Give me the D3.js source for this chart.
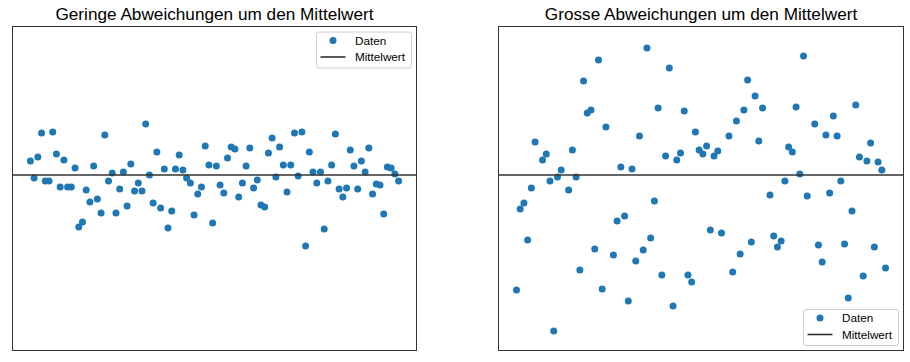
<!DOCTYPE html>
<html>
<head>
<meta charset="utf-8">
<script src="https://cdn.jsdelivr.net/npm/d3@7"></script>
<style>
  html, body { margin: 0; padding: 0; background: #fff; }
  svg { display: block; font-family: "Liberation Sans", Arial, sans-serif; }
</style>
</head>
<body>
<svg id="chart" width="910" height="362"></svg>
<script>
// ---- data ----
const titles = ["Geringe Abweichungen um den Mittelwert", "Grosse Abweichungen um den Mittelwert"];
const legendLabels = ["Daten", "Mittelwert"];
const meanValue = 50;
const yDomain = [32.4, 64.9];

const smallDeviation = [
  51.4, 49.7, 51.8, 54.2, 49.4, 49.4, 54.3, 52.1, 48.8, 51.5,
  48.8, 48.8, 50.7, 44.8, 45.3, 48.5, 47.3, 50.9, 47.6, 46.2,
  54.0, 49.4, 50.2, 46.2, 48.6, 50.3, 46.9, 51.1, 48.4, 49.2,
  48.4, 55.1, 50.0, 47.2, 52.3, 46.7, 50.6, 44.7, 46.4, 50.6,
  52.0, 50.5, 49.7, 49.2, 46.0, 48.1, 48.8, 52.9, 51.0, 45.2,
  50.9, 49.0, 48.2, 51.7, 52.8, 52.6, 47.8, 49.2, 50.9, 52.7,
  48.7, 49.5, 47.0, 46.8, 52.2, 53.7, 49.8, 52.8, 51.0, 48.3,
  51.0, 54.2, 49.9, 54.3, 42.9, 52.3, 50.3, 49.2, 50.3, 44.6,
  49.4, 51.0, 54.1, 48.6, 47.8, 48.7, 52.5, 50.9, 48.6, 51.4,
  50.3, 52.7, 48.1, 49.1, 49.0, 46.1, 50.8, 50.7, 50.1, 49.4
];

// null = point lies outside the visible range in the reference
const largeDeviation = [
  38.5, 46.6, 47.2, 43.5, 48.7, 53.3, null, 51.5, 52.1, 49.4,
  34.4, 49.8, 50.5, null, 48.5, 52.5, 49.8, 40.5, 59.4, 56.2,
  56.5, 42.6, 61.5, 38.6, 54.8, null, 42.0, 45.4, 50.8, 45.9,
  37.4, 50.6, 41.4, 53.9, 42.5, 62.7, 43.7, 47.4, 56.7, 40.0,
  51.9, 60.7, 36.9, 51.5, 52.2, 56.4, 40.0, 39.3, 54.3, 52.5,
  52.1, 52.9, 44.5, 51.9, 52.4, 44.2, null, 53.9, 40.3, 55.4,
  42.1, 56.5, 59.5, 43.3, 57.9, 53.4, 56.7, null, 48.0, 43.9,
  42.8, 43.4, 49.4, 52.8, 52.3, 56.8, 50.1, 61.9, 47.9, null,
  55.1, 43.0, 41.3, 54.0, 48.2, 55.9, 53.9, 49.4, 43.1, 37.7,
  46.4, 57.0, 51.8, 39.9, 51.4, 53.2, 42.8, 51.3, 50.5, 40.7
];

// ---- drawing ----
const svg = d3.select("#chart");
const panels = [
  { data: smallDeviation, left: 12, right: 417, legend: "top" },
  { data: largeDeviation, left: 498, right: 904, legend: "bottom" }
];
const plotTop = 26, plotBottom = 351;
const dotColor = "#1f77b4";
const lineColor = "#333333";

panels.forEach((p, k) => {
  const n = p.data.length;
  const pad = (n - 1) * 0.05;
  const x = d3.scaleLinear().domain([-pad, n - 1 + pad]).range([p.left, p.right]);
  const y = d3.scaleLinear().domain(yDomain).range([plotBottom, plotTop]);

  const g = svg.append("g");
  const clipId = "clip" + k;
  svg.append("clipPath").attr("id", clipId)
    .append("rect").attr("x", p.left).attr("y", plotTop)
    .attr("width", p.right - p.left).attr("height", plotBottom - plotTop);

  const plot = g.append("g").attr("clip-path", `url(#${clipId})`);

  const pts = p.data.map((v, i) => ({ i, v })).filter(d => d.v !== null);
  plot.selectAll("circle").data(pts).join("circle")
    .attr("cx", d => x(d.i))
    .attr("cy", d => y(d.v))
    .attr("r", 3.5)
    .attr("fill", dotColor);

  plot.append("line")
    .attr("x1", p.left).attr("x2", p.right)
    .attr("y1", y(meanValue)).attr("y2", y(meanValue))
    .attr("stroke", lineColor).attr("stroke-width", 1.6);

  // frame
  g.append("rect")
    .attr("x", p.left + 0.5).attr("y", plotTop + 0.5)
    .attr("width", p.right - p.left - 1).attr("height", plotBottom - plotTop - 1)
    .attr("fill", "none").attr("stroke", "#333").attr("stroke-width", 1);

  // title
  g.append("text")
    .attr("x", (p.left + p.right) / 2).attr("y", 19.5)
    .attr("text-anchor", "middle")
    .attr("font-size", 17.2)
    .attr("fill", "#000")
    .text(titles[k]);

  // legend
  const lw = 95, lh = 36;
  const lx = p.right - lw - 6;
  const ly = p.legend === "top" ? plotTop + 5.5 : plotBottom - lh - 6;
  const lg = g.append("g").attr("transform", `translate(${lx},${ly})`);
  lg.append("rect")
    .attr("x", 0.5).attr("y", 0.5).attr("width", lw).attr("height", lh)
    .attr("rx", 2.5).attr("ry", 2.5)
    .attr("fill", "#fff").attr("fill-opacity", 0.8)
    .attr("stroke", "#cccccc").attr("stroke-width", 1);
  lg.append("circle").attr("cx", 17).attr("cy", 9).attr("r", 3.5).attr("fill", dotColor);
  lg.append("line").attr("x1", 4.5).attr("x2", 29.5).attr("y1", 25.5).attr("y2", 25.5)
    .attr("stroke", lineColor).attr("stroke-width", 1.6);
  lg.selectAll("text.lab").data(legendLabels).join("text")
    .attr("class", "lab")
    .attr("x", 39)
    .attr("y", (d, i) => 9 + i * 16.5)
    .attr("dy", "0.35em")
    .attr("font-size", 11.7)
    .attr("fill", "#000")
    .text(d => d);
});
</script>
</body>
</html>
